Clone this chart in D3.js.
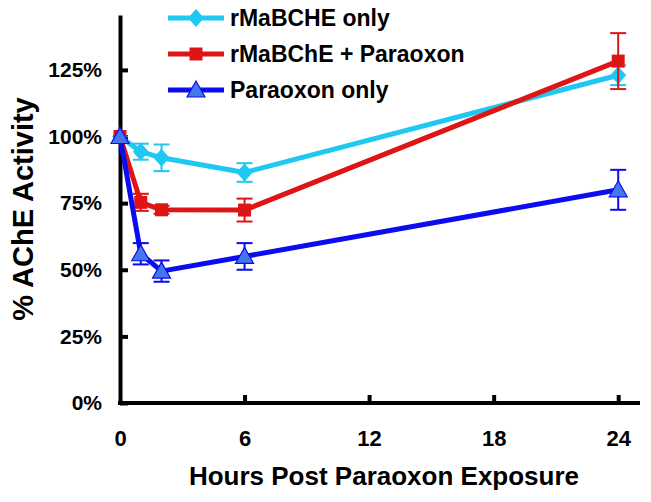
<!DOCTYPE html>
<html><head><meta charset="utf-8">
<script src="https://cdn.jsdelivr.net/npm/d3@7"></script>
<style>body{margin:0;background:#fff}svg{display:block}text{font-family:"Liberation Sans",Arial,sans-serif;font-weight:bold;fill:#000}</style>
</head><body><svg id="c" width="651" height="502"></svg>
<script>
const hours = [0, 1, 2, 6, 24];
const seriesNames = ["rMaBCHE only", "rMaBChE + Paraoxon", "Paraoxon only"];
const cyanValues = [100, 94.3, 92, 86.5, 123];
const cyanErrors = [0, 3, 5, 3.5, 3.7];
const redValues = [100, 75.3, 72.5, 72.4, 128.3];
const redErrors = [0, 3.2, 1.5, 4.3, 10.5];
const blueValues = [100, 56, 49.5, 55, 80];
const blueErrors = [0, 4, 4, 5, 7.5];
const xTicks = [0, 6, 12, 18, 24];
const yTicks = [0, 25, 50, 75, 100, 125];

const colors = ["#1ec8f2", "#dd1515", "#0c0cf0"];
const markerFill = ["#1ec8f2", "#dd1515", "#4477ee"];
const diamond = {draw(ctx, s) { const w = 8, h = 9; ctx.moveTo(0, -h); ctx.lineTo(w, 0); ctx.lineTo(0, h); ctx.lineTo(-w, 0); ctx.closePath(); }};
const square = {draw(ctx, s) { const r = 6.5; ctx.rect(-r, -r, 2 * r, 2 * r); }};
const triangle = {draw(ctx, s) { ctx.moveTo(0, -9); ctx.lineTo(9, 7); ctx.lineTo(-9, 7); ctx.closePath(); }};
const symbols = [diamond, square, triangle];

const svg = d3.select("#c");
const x = d3.scaleLinear().domain([0, 25.05]).range([120, 640]);
const y = d3.scaleLinear().domain([0, 145.6]).range([403, 15]);

const yAxis = d3.axisLeft(y).tickValues(yTicks).tickFormat(d => d + "%").tickSizeInner(-8).tickSizeOuter(0).tickPadding(18);
const gy = svg.append("g").attr("transform", "translate(120,0)").call(yAxis);
gy.select(".domain").attr("stroke", "#000").attr("stroke-width", 4);
gy.selectAll(".tick line").attr("stroke", "#000").attr("stroke-width", 4);
gy.selectAll(".tick text").style("font-size", "21px").attr("fill", "#000").attr("font-family", null);

const xAxis = d3.axisBottom(x).tickValues(xTicks).tickSizeInner(-8).tickSizeOuter(0).tickPadding(27);
const gx = svg.append("g").attr("transform", "translate(0,403)").call(xAxis);
gx.select(".domain").attr("stroke", "#000").attr("stroke-width", 4).attr("d", "M118,0H640");
gx.selectAll(".tick line").attr("stroke", "#000").attr("stroke-width", 4);
gx.selectAll(".tick text").style("font-size", "22px").attr("fill", "#000").attr("font-family", null);
gx.selectAll(".tick").filter(d => d === 0).select("line").remove();

svg.append("text").attr("x", 384).attr("y", 485).attr("text-anchor", "middle").style("font-size", "26px").text("Hours Post Paraoxon Exposure");
svg.append("text").attr("transform", "translate(33,209) rotate(-90)").attr("text-anchor", "middle").style("font-size", "29px").text("% AChE Activity");

const all = [
  {v: cyanValues, e: cyanErrors},
  {v: redValues, e: redErrors},
  {v: blueValues, e: blueErrors}
];
const line = d3.line().x(d => x(d[0])).y(d => y(d[1]));
all.forEach((s, i) => {
  const g = svg.append("g");
  const pts = hours.map((h, k) => [h, s.v[k], s.e[k]]);
  pts.filter(p => p[2] > 0).forEach(p => {
    const cx = x(p[0]);
    g.append("line").attr("x1", cx).attr("x2", cx).attr("y1", y(p[1] - p[2])).attr("y2", y(p[1] + p[2])).attr("stroke", colors[i]).attr("stroke-width", 2);
    [p[1] - p[2], p[1] + p[2]].forEach(v => g.append("line").attr("x1", cx - 8).attr("x2", cx + 8).attr("y1", y(v)).attr("y2", y(v)).attr("stroke", colors[i]).attr("stroke-width", 2));
  });
  g.append("path").datum(pts).attr("d", line).attr("fill", "none").attr("stroke", colors[i]).attr("stroke-width", 5).attr("stroke-linejoin", "round");
  g.selectAll("path.m").data(pts).join("path").attr("class", "m")
    .attr("transform", p => `translate(${x(p[0])},${y(p[1])})`)
    .attr("d", d3.symbol().type(symbols[i]))
    .attr("fill", markerFill[i]).attr("stroke", i === 2 ? colors[i] : "none").attr("stroke-width", 1.2);
});

const ly = [18, 54, 90];
seriesNames.forEach((n, i) => {
  svg.append("line").attr("x1", 168).attr("x2", 224).attr("y1", ly[i]).attr("y2", ly[i]).attr("stroke", colors[i]).attr("stroke-width", 5);
  svg.append("path").attr("transform", `translate(196,${ly[i]})`).attr("d", d3.symbol().type(symbols[i]))
    .attr("fill", markerFill[i]).attr("stroke", i === 2 ? colors[i] : "none").attr("stroke-width", 1.2);
  svg.append("text").attr("x", 230).attr("y", ly[i] + 8).style("font-size", "23px").text(n);
});
</script></body></html>
